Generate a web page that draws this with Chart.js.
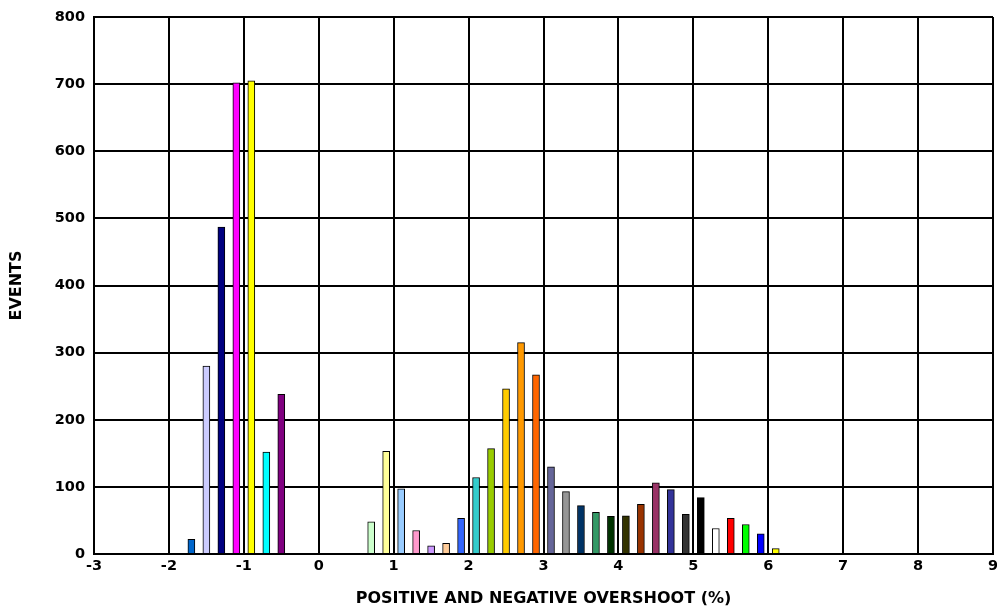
<!DOCTYPE html>
<html>
<head>
<meta charset="utf-8">
<script src="https://cdn.jsdelivr.net/npm/chart.js@4/dist/chart.umd.min.js"></script>
<style>
  html, body { margin: 0; padding: 0; background: #fff; }
  #wrap { width: 997px; height: 609px; }
</style>
</head>
<body>
<div id="wrap"><canvas id="chart" width="997" height="609"></canvas></div>
<script>
const overshoot = [-1.7, -1.5, -1.3, -1.1, -0.9, -0.7, -0.5,
    0.7, 0.9, 1.1, 1.3, 1.5, 1.7, 1.9, 2.1, 2.3, 2.5, 2.7, 2.9,
    3.1, 3.3, 3.5, 3.7, 3.9, 4.1, 4.3, 4.5, 4.7, 4.9, 5.1, 5.3, 5.5, 5.7, 5.9, 6.1];
const events = [22, 280, 487, 702, 705, 152, 238,
    48, 153, 97, 35, 12, 16, 53, 114, 157, 246, 315, 267,
    130, 93, 72, 62, 56, 57, 74, 106, 96, 59, 84, 38, 53, 44, 30, 8];
const barColors = ['#0066CC', '#CCCCFF', '#000080', '#FF00FF', '#FFFF00', '#00FFFF', '#800080',
    '#CCFFCC', '#FFFF99', '#99CCFF', '#FF99CC', '#CC99FF', '#FFCC99', '#3366FF', '#33CCCC', '#99CC00', '#FFCC00', '#FF9900', '#FF6600',
    '#666699', '#969696', '#003366', '#339966', '#003300', '#333300', '#993300', '#993366', '#333399', '#333333', '#000000', '#FFFFFF', '#FF0000', '#00FF00', '#0000FF', '#FFFF00'];

const tickFont = { family: 'DejaVu Sans', weight: 'bold', size: 14.5 };
const titleFont = { family: 'DejaVu Sans', weight: 'bold', size: 16 };

new Chart(document.getElementById('chart'), {
    type: 'bar',
    data: {
        datasets: [{
            data: overshoot.map((x, i) => ({ x, y: events[i] })),
            backgroundColor: barColors,
            borderColor: '#000',
            borderWidth: 1,
            barThickness: 7
        }]
    },
    options: {
        responsive: false,
        animation: false,
        layout: { padding: { top: 17, right: 4, left: 0, bottom: 0 } },
        plugins: { legend: { display: false }, tooltip: { enabled: false } },
        scales: {
            x: {
                type: 'linear',
                min: -3, max: 9,
                offset: false,
                ticks: { stepSize: 1, color: '#000', font: tickFont, padding: 4, maxRotation: 0 },
                grid: { color: '#000', lineWidth: 2, drawTicks: false, offset: false },
                border: { color: '#000', width: 2 },
                title: { display: true, text: 'POSITIVE AND NEGATIVE OVERSHOOT (%)', color: '#000', font: titleFont, padding: { top: 0, bottom: 1 } },
                afterFit: s => { s.height = 55; s.paddingLeft = 0; s.paddingRight = 0; }
            },
            y: {
                min: 0, max: 800,
                ticks: { stepSize: 100, color: '#000', font: tickFont, padding: 9 },
                grid: { color: '#000', lineWidth: 2, drawTicks: false },
                border: { color: '#000', width: 2 },
                title: { display: true, text: 'EVENTS', color: '#000', font: titleFont, padding: { top: 7, bottom: 0 } },
                afterFit: s => { s.width = 94; s.paddingTop = 0; s.paddingBottom = 0; }
            }
        }
    }
});
</script>
</body>
</html>
